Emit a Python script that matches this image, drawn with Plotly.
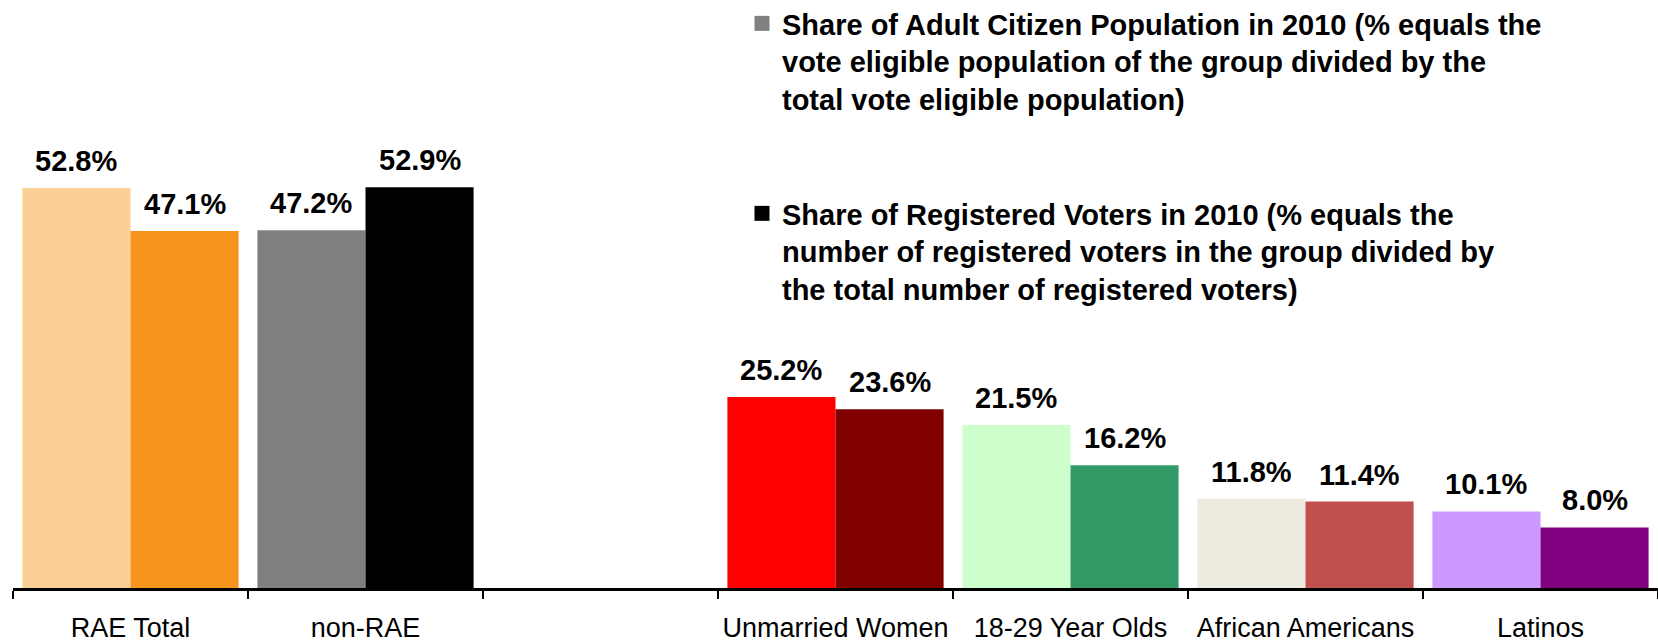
import plotly.graph_objects as go

# Groups along the x axis (the blank entry leaves a gap between the two blocks)
categories = ["RAE Total", "non-RAE", " ", "Unmarried Women", "18-29 Year Olds",
              "African Americans", "Latinos"]

# Share of adult citizen population, 2010 (%)
adult_share = [52.8, 47.2, None, 25.2, 21.5, 11.8, 10.1]
# Share of registered voters, 2010 (%)
registered_share = [47.1, 52.9, None, 23.6, 16.2, 11.4, 8.0]

adult_colors = ["#FAD096", "#808080", "#FFFFFF", "#FF0000", "#CCFFCC", "#EDEAE0", "#CC99FF"]
registered_colors = ["#F7941D", "#000000", "#FFFFFF", "#800000", "#339966", "#C0504D", "#800080"]

adult_name = ("Share of Adult Citizen Population in 2010 (% equals the<br>"
              "vote eligible population of the group divided by the<br>"
              "total vote eligible population)")
registered_name = ("Share of Registered Voters in 2010 (% equals the<br>"
                   "number of registered voters in the group divided by<br>"
                   "the total number of registered voters)")

FONT = "Arial, Liberation Sans, Helvetica, sans-serif"
BAR_GAP = 0.08
W, H = 1658, 644
ML, MR, MT, MB = 13, 0, 0, 56
PW, PH = W - ML - MR, H - MT - MB

fig = go.Figure()
fig.add_trace(go.Bar(x=categories, y=adult_share, marker=dict(color=adult_colors, line_width=0),
                     showlegend=False, hoverinfo="skip"))
fig.add_trace(go.Bar(x=categories, y=registered_share, marker=dict(color=registered_colors, line_width=0),
                     showlegend=False, hoverinfo="skip"))

# Legend entries (square swatches in the series' key colours)
fig.add_trace(go.Scatter(x=[None], y=[None], mode="markers", name=adult_name,
                         marker=dict(symbol="square", size=15, color="#808080"),
                         legend="legend", hoverinfo="skip"))
fig.add_trace(go.Scatter(x=[None], y=[None], mode="markers", name=registered_name,
                         marker=dict(symbol="square", size=15, color="#000000"),
                         legend="legend2", hoverinfo="skip"))

# Value labels above each bar
half = (1 - BAR_GAP) / 4
annotations = []
for j, cat in enumerate(categories):
    for vals, shift in ((adult_share, -half), (registered_share, half)):
        v = vals[j]
        if v is None:
            continue
        annotations.append(dict(x=j + shift, y=v, xref="x", yref="y", text=f"{v:.1f}%",
                                showarrow=False, yanchor="bottom", yshift=9,
                                font=dict(family=FONT, size=29, color="black", weight="bold")))

legend_style = dict(font=dict(family=FONT, size=29, color="black", weight="bold"),
                    bgcolor="rgba(0,0,0,0)", borderwidth=0, valign="top",
                    xanchor="left", yanchor="top",
                    itemclick=False, itemdoubleclick=False)

fig.update_layout(
    width=W, height=H,
    margin=dict(l=ML, r=MR, t=MT, b=MB, autoexpand=False),
    paper_bgcolor="white", plot_bgcolor="white",
    barmode="group", bargap=BAR_GAP, bargroupgap=0,
    annotations=annotations,
    legend=dict(x=(742 - ML) / PW, y=1 + 2 / PH, **legend_style),
    legend2=dict(x=(742 - ML) / PW, y=1 - 188 / PH, **legend_style),
    xaxis=dict(type="category", showgrid=False, zeroline=False,
               showline=True, linecolor="black", linewidth=2.5,
               ticks="outside", tickson="boundaries", ticklen=8, tickwidth=1.5, tickcolor="black",
               tickfont=dict(family=FONT, size=27, color="black"), tickangle=0,
               ticklabelstandoff=14, fixedrange=True),
    yaxis=dict(range=[0, 77.6], visible=False, fixedrange=True),
)

fig.write_html("out.html")
